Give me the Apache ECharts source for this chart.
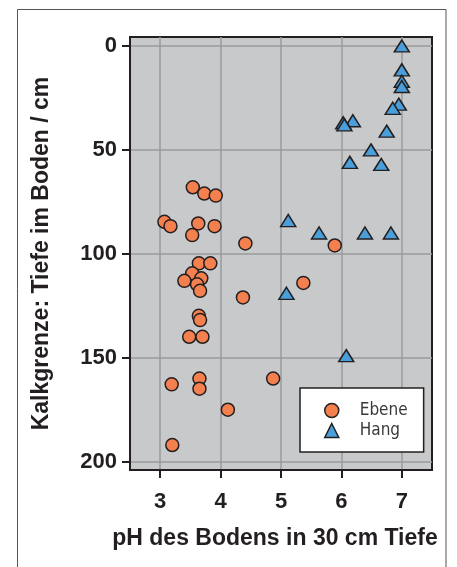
<!DOCTYPE html>
<html>
<head>
<meta charset="utf-8">
<script src="https://cdn.jsdelivr.net/npm/echarts@6/dist/echarts.min.js"></script>
<style>
  html, body { margin: 0; padding: 0; background: #ffffff; }
  #chart { width: 457px; height: 567px; }
</style>
</head>
<body>
<div id="chart"></div>
<script>
// ---- data ----
const xTitle = 'pH des Bodens in 30 cm Tiefe';
const yTitle = 'Kalkgrenze: Tiefe im Boden / cm';
const seriesNames = ['Ebene', 'Hang'];
const xTicks = [3, 4, 5, 6, 7];
const yTicks = [0, 50, 100, 150, 200];

const ebeneX = [3.54, 3.73, 3.92, 3.07, 3.17, 3.63, 3.90, 3.53, 4.41, 5.89, 3.64, 3.83, 3.53, 3.68, 3.40, 3.61, 3.66, 5.37, 4.37, 3.64, 3.66, 3.48, 3.70, 3.19, 3.65, 3.65, 4.87, 4.12, 3.20];
const ebeneY = [68, 71, 72, 84.6, 86.7, 85.4, 86.7, 91, 95, 96, 104.6, 104.6, 109.4, 111.8, 113, 114.7, 117.8, 114, 121, 129.8, 131.9, 139.9, 139.9, 162.8, 160, 164.9, 160, 175, 192];

const hangX = [7.0, 7.0, 7.0, 7.0, 6.95, 6.85, 6.19, 6.03, 6.05, 6.75, 6.49, 6.14, 6.66, 5.12, 5.63, 6.39, 6.82, 5.09, 6.08];
const hangY = [0, 11.5, 17, 19.5, 28, 30, 36, 37, 38, 41, 50, 56, 57, 84, 90, 90, 90, 119, 149];

// ---- chart ----
const ink = '#231F20';
const boldFont = 'Liberation Sans';
const ebeneData = ebeneX.map((x, i) => [x, ebeneY[i]]);
const hangData = hangX.map((x, i) => [x, hangY[i]]);

const chart = echarts.init(document.getElementById('chart'));
chart.setOption({
  animation: false,
  grid: {
    left: 130, top: 37, right: 25, bottom: 97,
    show: true, backgroundColor: '#C8C9CB', borderColor: ink, borderWidth: 2
  },
  xAxis: {
    type: 'value', min: 2.5, max: 7.5,
    name: xTitle, nameLocation: 'middle', nameGap: 57,
    nameTextStyle: { fontFamily: boldFont, fontWeight: 'bold', fontSize: 23, color: ink, padding: [0, 12, 0, 0] },
    axisLine: { show: true, onZero: false, lineStyle: { color: ink, width: 2 } },
    axisTick: { show: true, length: 8, customValues: xTicks, lineStyle: { color: ink, width: 2 } },
    axisLabel: { customValues: xTicks, margin: 21, fontFamily: boldFont, fontWeight: 'bold', fontSize: 22, color: ink },
    splitLine: { show: true, lineStyle: { color: '#999a9c', width: 1.5 } }
  },
  yAxis: {
    type: 'value', inverse: true, min: -4.3, max: 204,
    name: yTitle, nameLocation: 'middle', nameGap: 77, nameRotate: 90,
    nameTextStyle: { fontFamily: boldFont, fontWeight: 'bold', fontSize: 23, color: ink },
    axisLine: { show: true, onZero: false, lineStyle: { color: ink, width: 2 } },
    axisTick: { show: true, length: 8, customValues: yTicks, lineStyle: { color: ink, width: 2 } },
    axisLabel: { customValues: yTicks, margin: 13, fontFamily: boldFont, fontWeight: 'bold', fontSize: 22, color: ink },
    splitLine: { show: true, lineStyle: { color: '#999a9c', width: 1.5 } }
  },
  legend: {
    orient: 'vertical', left: 300, top: 388,
    padding: [14, 16, 13, 24], itemGap: 3, itemWidth: 14, itemHeight: 14,
    backgroundColor: '#ffffff', borderColor: ink, borderWidth: 1.5,
    textStyle: { fontFamily: "'Liberation Sans Narrow', 'DejaVu Sans Condensed', sans-serif", fontSize: 17, lineHeight: 17, color: '#3a3a3a', padding: [0, 0, 0, 16] },
    data: [
      { name: seriesNames[0], icon: 'circle', itemStyle: { color: '#F5804F', borderColor: ink, borderWidth: 1.5 } },
      { name: seriesNames[1], icon: 'triangle', itemStyle: { color: '#4A9FDB', borderColor: ink, borderWidth: 1.5 } }
    ]
  },
  graphic: [
    { type: 'rect', silent: true, shape: { x: 17.5, y: 9.5, width: 428.5, height: 620 }, style: { fill: 'none', stroke: '#555555', lineWidth: 1 } }
  ],
  series: [
    {
      name: seriesNames[0], type: 'scatter', symbol: 'circle', symbolSize: 13,
      itemStyle: { color: '#F5804F', borderColor: ink, borderWidth: 1.5, opacity: 1 },
      data: ebeneData
    },
    {
      name: seriesNames[1], type: 'scatter', symbol: 'triangle', symbolSize: [15, 12],
      itemStyle: { color: '#4A9FDB', borderColor: ink, borderWidth: 1.5, opacity: 1 },
      data: hangData
    }
  ]
});
</script>
</body>
</html>
